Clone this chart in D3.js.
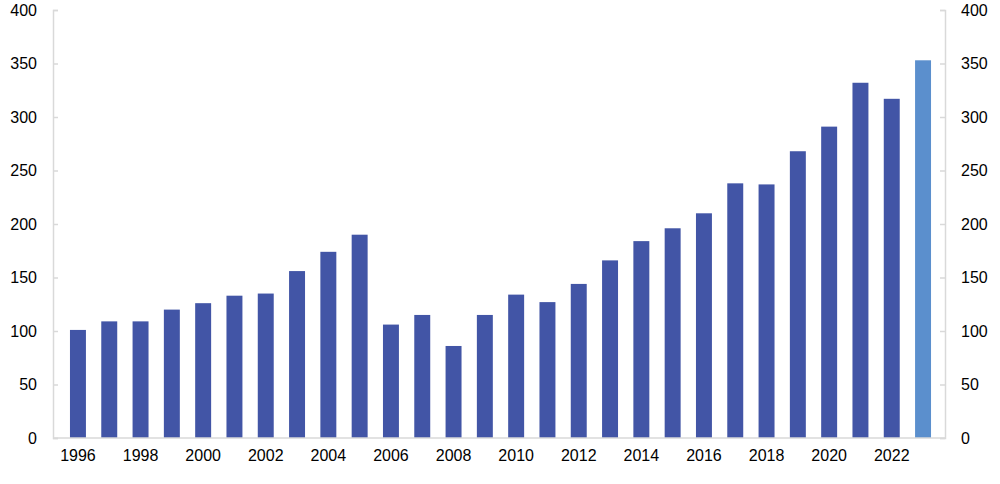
<!DOCTYPE html>
<html><head><meta charset="utf-8">
<script src="https://cdn.jsdelivr.net/npm/d3@7"></script>
<style>body{margin:0;background:#fff}svg text{font-family:"Liberation Sans",Arial,sans-serif;font-size:16px;fill:#000}</style>
</head><body><svg id="c" width="1000" height="484"></svg>
<script>
const years = d3.range(1996, 2024);
const values = [101,109,109,120,126,133,135,156,174,190,106,115,86,115,134,127,144,166,184,196,210,238,237,268,291,332,317,353];
const yTicks = [0,50,100,150,200,250,300,350,400];
const xLabels = years.filter(y => (y - 1996) % 2 === 0);
const barColor = "#4255a6", lastColor = "#5b8fcd", axisColor = "#d9d9d9";

(function(){
const svg = d3.select("#c");
const pl = 53, pr = 945, pt = 10, pb = 438;
const x = d3.scaleBand().domain(years).range([62.3, 938.7]).paddingInner(0.49).paddingOuter(0.245);
const y = d3.scaleLinear().domain([0, 400]).range([pb, pt]);

svg.selectAll("rect.bar").data(years).join("rect")
  .attr("x", d => x(d)).attr("width", x.bandwidth())
  .attr("y", (d,i) => y(values[i])).attr("height", (d,i) => pb - y(values[i]))
  .attr("fill", (d,i) => i === years.length - 1 ? lastColor : barColor);

const gl = svg.append("g").attr("transform", `translate(${pl},0)`)
  .call(d3.axisRight(y).tickValues(yTicks).tickSize(5).tickFormat(""));
const gr = svg.append("g").attr("transform", `translate(${pr},0)`)
  .call(d3.axisLeft(y).tickValues(yTicks).tickSize(5).tickFormat(""));
[gl, gr].forEach(g => { g.selectAll("line,path").attr("stroke", axisColor).attr("stroke-width", 1.5); });

svg.append("line").attr("x1", pl).attr("x2", pr).attr("y1", pb).attr("y2", pb)
  .attr("stroke", axisColor).attr("stroke-width", 1.5);

svg.selectAll("text.yl").data(yTicks).join("text").attr("class","yl")
  .attr("x", 37).attr("y", d => y(d)).attr("dy", "0.35em").attr("text-anchor", "end").text(d => d);
svg.selectAll("text.yr").data(yTicks).join("text").attr("class","yr")
  .attr("x", 961).attr("y", d => y(d)).attr("dy", "0.35em").attr("text-anchor", "start").text(d => d);
svg.selectAll("text.xl").data(xLabels).join("text").attr("class","xl")
  .attr("x", d => x(d) + x.bandwidth()/2).attr("y", 461).attr("text-anchor", "middle").text(d => d);
})();
</script></body></html>
